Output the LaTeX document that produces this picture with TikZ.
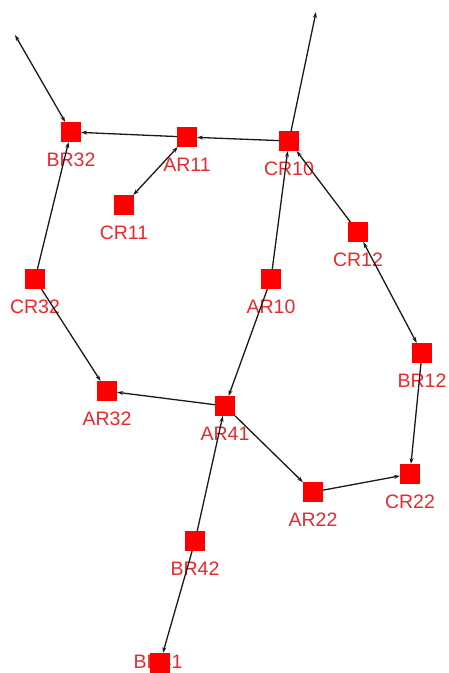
\documentclass[tikz,border=0pt]{standalone}
\usepackage{fontspec}
\setmainfont{Liberation Sans}
\usetikzlibrary{arrows.meta}
\definecolor{labelred}{RGB}{235,40,45}
\definecolor{linkgray}{RGB}{25,25,25}
\begin{document}
\begin{tikzpicture}[x=1pt,y=-1pt,
  router/.style={draw=none,fill=red,minimum size=20pt,inner sep=0pt,outer sep=0pt},
  tag/.style={text=labelred,font=\fontsize{19.5}{19.5}\selectfont,anchor=base,inner sep=0pt},
  tip/.tip={Stealth[length=6pt,width=4pt]},
  link/.style={draw=linkgray,line width=1.3pt,-tip},
  both/.style={draw=linkgray,line width=1.3pt,tip-tip}]
\useasboundingbox (0,0) rectangle (448,673);

% router labels, set under each square
\foreach \n/\x/\y in {BR32/71/132, AR11/187/137, CR11/124/205, CR10/289/141,
  CR12/358/232, AR10/271/279, BR12/422/353, CR32/35/279, AR32/107/391,
  AR41/225/406, AR22/313/492, CR22/410/474, BR42/195/541}
  \node[tag] (\n-l) at (\x,\y+34) {\n};
\node[tag] (BR41-l) at (158,668) {BR41};

% routers
\foreach \n/\x/\y in {BR32/71/132, AR11/187/137, CR11/124/205, CR10/289/141,
  CR12/358/232, AR10/271/279, BR12/422/353, CR32/35/279, AR32/107/391,
  AR41/225/406, AR22/313/492, CR22/410/474, BR42/195/541, BR41/160/663}
  \node[router] (\n) at (\x,\y) {};

% links leaving the picture
\coordinate (outL) at (15,35);
\coordinate (outT) at (316,12);

% links
\draw[both] (BR32) -- (outL);
\draw[link] (AR11) -- (BR32);
\draw[link] (CR10) -- (AR11);
\draw[both] (AR11) -- (CR11);
\draw[link] (CR32) -- (BR32);
\draw[link] (CR32) -- (AR32);
\draw[link] (AR41) -- (AR32);
\draw[link] (AR10) -- (AR41);
\draw[link] (AR10) -- (CR10);
\draw[link] (CR10) -- (outT);
\draw[link] (CR12) -- (CR10);
\draw[both] (BR12) -- (CR12);
\draw[link] (BR12) -- (CR22);
\draw[link] (AR22) -- (CR22);
\draw[link] (AR41) -- (AR22);
\draw[link] (BR42) -- (AR41);
\draw[link] (BR42) -- (BR41);
\end{tikzpicture}
\end{document}
